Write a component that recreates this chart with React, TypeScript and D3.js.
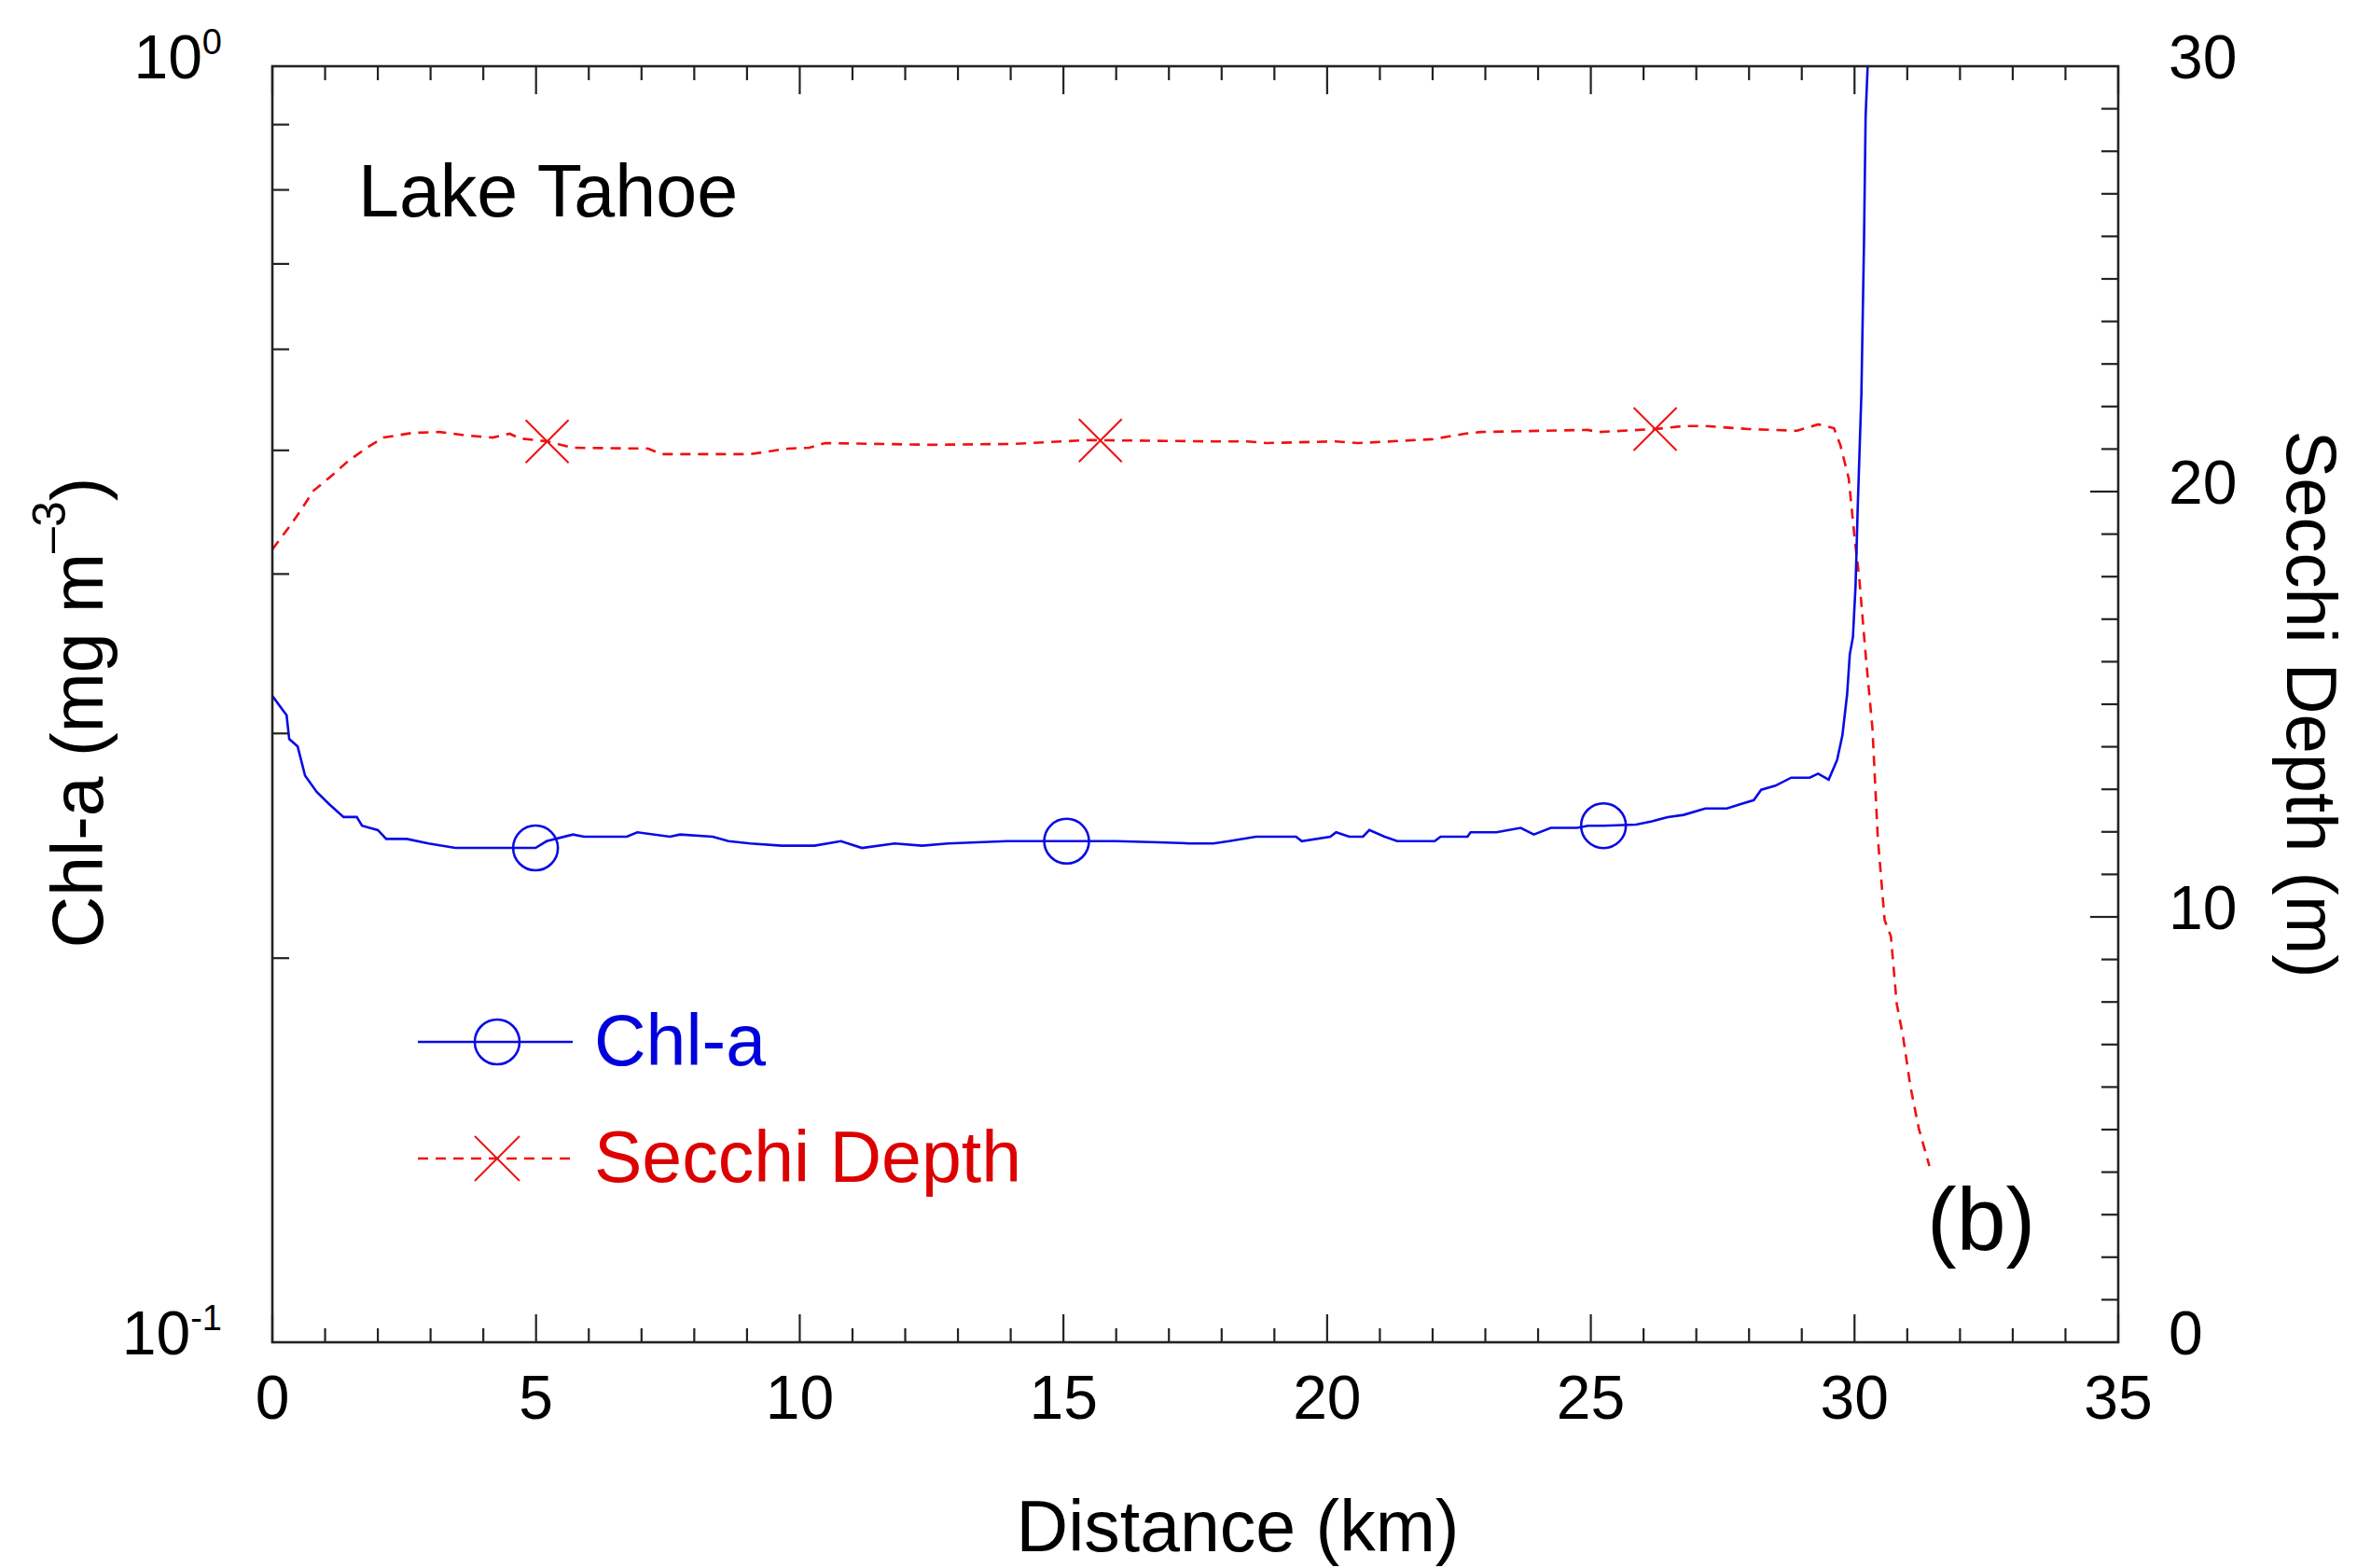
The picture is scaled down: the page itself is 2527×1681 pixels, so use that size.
import React from "react";
import * as d3 from "d3";

// ---- data ----
const chlX = [0, 0.27, 0.32, 0.48, 0.62, 0.84, 1.08, 1.35, 1.6, 1.7, 2.0, 2.16, 2.55, 2.96, 3.47, 4.99, 5.2, 5.7, 5.91, 6.72, 6.92, 7.54, 7.73, 8.35, 8.65, 9.06, 9.66, 10.28, 10.78, 11.18, 11.8, 12.32, 12.81, 13.93, 15.06, 16.0, 16.8, 17.4, 17.84, 18.14, 18.65, 19.41, 19.52, 20.06, 20.17, 20.42, 20.68, 20.8, 21.09, 21.33, 22.04, 22.15, 22.66, 22.72, 23.21, 23.67, 23.92, 24.24, 24.74, 24.95, 25.24, 25.86, 26.16, 26.46, 26.76, 27.17, 27.58, 27.83, 28.09, 28.23, 28.5, 28.8, 29.15, 29.31, 29.51, 29.67, 29.77, 29.86, 29.91, 29.97, 30.02, 30.06, 30.13, 30.18, 30.21, 30.27];
const chlV = [0.321, 0.31, 0.297, 0.293, 0.278, 0.27, 0.264, 0.258, 0.258, 0.254, 0.252, 0.248, 0.248, 0.246, 0.244, 0.244, 0.247, 0.25, 0.249, 0.249, 0.251, 0.249, 0.25, 0.249, 0.247, 0.246, 0.245, 0.245, 0.247, 0.244, 0.246, 0.245, 0.246, 0.247, 0.247, 0.247, 0.2465, 0.246, 0.246, 0.247, 0.249, 0.249, 0.247, 0.249, 0.251, 0.249, 0.249, 0.252, 0.249, 0.247, 0.247, 0.249, 0.249, 0.251, 0.251, 0.253, 0.25, 0.253, 0.253, 0.254, 0.254, 0.2545, 0.256, 0.258, 0.259, 0.262, 0.262, 0.264, 0.266, 0.271, 0.273, 0.277, 0.277, 0.279, 0.276, 0.286, 0.299, 0.322, 0.346, 0.357, 0.392, 0.45, 0.553, 0.729, 0.913, 1.05];

const secX = [0, 0.32, 0.54, 0.78, 1.14, 1.44, 1.79, 2.11, 2.66, 3.17, 3.68, 4.18, 4.5, 4.69, 5.21, 5.7, 7.13, 7.38, 9.06, 9.77, 10.18, 10.48, 12.51, 14.03, 15.46, 17.84, 18.49, 18.84, 20.17, 20.58, 21.99, 22.61, 22.91, 24.94, 25.14, 26.22, 26.76, 27.17, 27.99, 28.91, 29.31, 29.61, 29.73, 29.89, 30.0, 30.09, 30.21, 30.34, 30.44, 30.57, 30.69, 30.8, 30.92, 31.06, 31.22, 31.42];
const secV = [18.64, 19.17, 19.56, 20.02, 20.39, 20.72, 21.03, 21.27, 21.38, 21.4, 21.32, 21.27, 21.36, 21.25, 21.18, 21.03, 21.01, 20.88, 20.88, 21.01, 21.03, 21.14, 21.1, 21.12, 21.21, 21.18, 21.18, 21.14, 21.18, 21.14, 21.23, 21.36, 21.4, 21.45, 21.4, 21.47, 21.54, 21.54, 21.47, 21.43, 21.58, 21.49, 21.1, 20.31, 18.93, 17.96, 16.18, 14.43, 11.89, 9.93, 9.54, 7.96, 7.19, 6.01, 5.02, 4.14];

const chlMarkX = [4.99, 15.06, 25.24];
const chlMarkV = [0.244, 0.247, 0.254];
const secMarkX = [5.21, 15.7, 26.22];
const secMarkV = [21.18, 21.2, 21.47];

const xTicks = [0, 5, 10, 15, 20, 25, 30, 35];
const rightTicks = [0, 10, 20, 30];
const leftMinor = [0.2, 0.3, 0.4, 0.5, 0.6, 0.7, 0.8, 0.9];

// ---- layout ----
const W = 2527, H = 1681;
const L = 292, R = 2271, T = 71, B = 1439;
const FONT = "'Liberation Sans', Arial, Helvetica, sans-serif";
const BLUE = "#0a0ae6";
const RED = "#f01010";

export default function App() {
  const x = d3.scaleLinear().domain([0, 35]).range([L, R]);
  const yL = d3.scaleLog().domain([0.1, 1]).range([B, T]);
  const yR = d3.scaleLinear().domain([0, 30]).range([B, T]);

  const chlLine = d3.line<number>().x((d, i) => x(chlX[i])).y((d) => yL(d))(chlV) || "";
  const secLine = d3.line<number>().x((d, i) => x(secX[i])).y((d) => yR(d))(secV) || "";

  const minorX = d3.range(0, 36, 1);
  const minorR = d3.range(1, 30, 1);

  const tickStroke = "#222";
  const tickW = 2.2;

  const legendY1 = 1117;
  const legendY2 = 1242;
  const lx1 = 448, lx2 = 614, lmx = 533;

  const xMark = (cx: number, cy: number, s: number, key: string) => (
    <g key={key} stroke={RED} strokeWidth={2}>
      <line x1={cx - s} y1={cy - s} x2={cx + s} y2={cy + s} />
      <line x1={cx - s} y1={cy + s} x2={cx + s} y2={cy - s} />
    </g>
  );

  return (
    <svg width={W} height={H} viewBox={`0 0 ${W} ${H}`} style={{ position: "absolute", left: 0, top: 0, background: "#fff" }} fontFamily={FONT}>
      <rect x={0} y={0} width={W} height={H} fill="#fff" />
      <defs>
        <clipPath id="plotClip">
          <rect x={L} y={T} width={R - L} height={B - T} />
        </clipPath>
      </defs>

      {/* series */}
      <g clipPath="url(#plotClip)">
        <path d={secLine} fill="none" stroke={RED} strokeWidth={2.6} strokeDasharray="11 8" />
        <path d={chlLine} fill="none" stroke={BLUE} strokeWidth={2.6} />
        {chlMarkX.map((v, i) => (
          <circle key={"c" + i} cx={x(v)} cy={yL(chlMarkV[i])} r={24} fill="none" stroke={BLUE} strokeWidth={2.6} />
        ))}
        {secMarkX.map((v, i) => xMark(x(v), yR(secMarkV[i]), 23, "s" + i))}
      </g>

      {/* frame */}
      <rect x={L} y={T} width={R - L} height={B - T} fill="none" stroke={tickStroke} strokeWidth={2.6} />

      {/* x ticks bottom & top */}
      {minorX.map((v) => {
        const len = v % 5 === 0 ? 30 : 15;
        return (
          <g key={"xt" + v} stroke={tickStroke} strokeWidth={tickW}>
            <line x1={x(v)} x2={x(v)} y1={B} y2={B - len} />
            <line x1={x(v)} x2={x(v)} y1={T} y2={T + len} />
          </g>
        );
      })}
      {xTicks.map((v) => (
        <text key={"xl" + v} x={x(v)} y={1521} fontSize={66} textAnchor="middle" fill="#000">{v}</text>
      ))}

      {/* left log ticks */}
      {leftMinor.map((v) => (
        <line key={"lt" + v} x1={L} x2={L + 18} y1={yL(v)} y2={yL(v)} stroke={tickStroke} strokeWidth={tickW} />
      ))}
      <text x={238} y={yL(1) + 13} fontSize={66} textAnchor="end" fill="#000">
        10<tspan fontSize={38} dy={-26}>0</tspan>
      </text>
      <text x={238} y={yL(0.1) + 13} fontSize={66} textAnchor="end" fill="#000">
        10<tspan fontSize={38} dy={-26}>-1</tspan>
      </text>

      {/* right linear ticks */}
      {minorR.map((v) => {
        const len = v % 10 === 0 ? 30 : 18;
        return <line key={"rt" + v} x1={R} x2={R - len} y1={yR(v)} y2={yR(v)} stroke={tickStroke} strokeWidth={tickW} />;
      })}
      {rightTicks.map((v) => (
        <text key={"rl" + v} x={2325} y={yR(v) + 13} fontSize={66} textAnchor="start" fill="#000">{v}</text>
      ))}

      {/* axis titles */}
      <text x={1327} y={1663} fontSize={77} textAnchor="middle" fill="#000">Distance (km)</text>
      <text transform={`translate(110, 764) rotate(-90)`} fontSize={77} textAnchor="middle" fill="#000">
        Chl-a (mg m<tspan fontSize={50} dy={-40}>{"\u2013"}3</tspan><tspan dy={40}>)</tspan>
      </text>
      <text transform={`translate(2452, 755) rotate(90)`} fontSize={76} textAnchor="middle" fill="#000">Secchi Depth (m)</text>

      {/* annotations */}
      <text x={384} y={232} fontSize={79} fill="#000">Lake Tahoe</text>
      <text x={2066} y={1340} fontSize={95} fill="#000">(b)</text>

      {/* legend */}
      <line x1={lx1} x2={lx2} y1={legendY1} y2={legendY1} stroke={BLUE} strokeWidth={2.6} />
      <circle cx={lmx} cy={legendY1} r={24} fill="none" stroke={BLUE} strokeWidth={2.6} />
      <text x={637} y={legendY1 + 25} fontSize={77} fill="#0000dd">Chl-a</text>
      <line x1={lx1} x2={lx2} y1={legendY2} y2={legendY2} stroke={RED} strokeWidth={2.6} strokeDasharray="11 8" />
      {xMark(lmx, legendY2, 24, "lg")}
      <text x={637} y={legendY2 + 25} fontSize={77} fill="#dd0000">Secchi Depth</text>
    </svg>
  );
}
